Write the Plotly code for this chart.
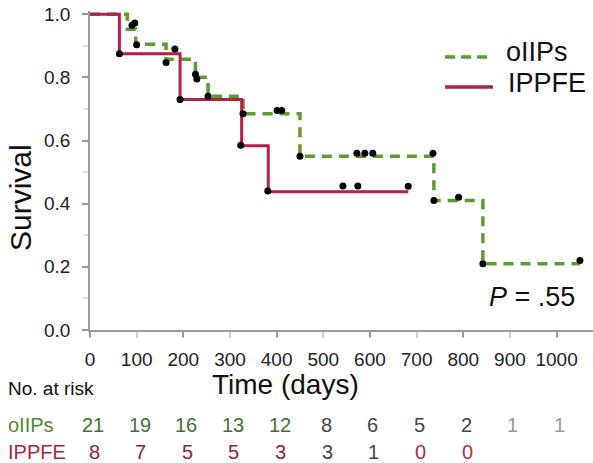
import plotly.graph_objects as go

# Kaplan-Meier steps (day, survival) for each group
oiips_days = [0, 80, 98, 163, 226, 253, 328, 450, 737, 842, 1050]
oiips_surv = [1.0, 0.952, 0.905, 0.857, 0.80, 0.74, 0.685, 0.55, 0.41, 0.21, 0.21]

ippfe_days = [0, 63, 193, 325, 382, 682]
ippfe_surv = [1.0, 0.875, 0.73, 0.583, 0.4375, 0.4375]

# Event / censoring marks
oiips_mark_days = [90, 96, 100, 163, 226, 229, 253, 328, 401, 411, 450,
                   572, 589, 606, 735, 737, 790, 842, 1050]
oiips_mark_surv = [0.965, 0.972, 0.903, 0.847, 0.81, 0.795, 0.74, 0.685, 0.695, 0.695, 0.55,
                   0.56, 0.56, 0.56, 0.56, 0.41, 0.42, 0.21, 0.22]
ippfe_mark_days = [63, 182, 193, 323, 381, 542, 574, 682]
ippfe_mark_surv = [0.875, 0.89, 0.73, 0.585, 0.44, 0.456, 0.456, 0.455]

# Number at risk table
risk_times = [0, 100, 200, 300, 400, 500, 600, 700, 800, 900, 1000]
oiips_risk = [21, 19, 16, 13, 12, 8, 6, 5, 2, 1, 1]
ippfe_risk = [8, 7, 5, 5, 3, 3, 1, 0, 0]
oiips_risk_colors = ["#4b6b35"] * 5 + ["#444444"] * 4 + ["#9a9a9a"] * 2
ippfe_risk_colors = ["#8e2338"] * 5 + ["#444444"] * 2 + ["#a8324c"] * 2

x_ticks = [0, 100, 200, 300, 400, 500, 600, 700, 800, 900, 1000]
y_ticks = [0.0, 0.2, 0.4, 0.6, 0.8, 1.0]

GREEN = "#5e9b34"
RED = "#b3204a"
FONT = "Liberation Sans, Arial, sans-serif"

fig = go.Figure()

fig.add_trace(go.Scatter(
    x=oiips_days, y=oiips_surv, mode="lines", line_shape="hv",
    line=dict(color=GREEN, width=3.5, dash="10px,7px"),
    name="oIIPs", showlegend=False))
fig.add_trace(go.Scatter(
    x=ippfe_days, y=ippfe_surv, mode="lines", line_shape="hv",
    line=dict(color=RED, width=3),
    name="IPPFE", showlegend=False))
fig.add_trace(go.Scatter(
    x=oiips_mark_days + ippfe_mark_days, y=oiips_mark_surv + ippfe_mark_surv,
    mode="markers", marker=dict(color="black", size=7),
    xaxis="x2", showlegend=False, hoverinfo="skip"))

fig.update_layout(
    width=593, height=463,
    margin=dict(l=90, r=0, t=11, b=133),
    paper_bgcolor="white", plot_bgcolor="white",
    font=dict(family=FONT, color="#1a1a1a"),
    xaxis=dict(
        range=[0, 1078], tickvals=x_ticks, ticktext=[str(v) for v in x_ticks],
        ticks="outside", ticklen=6, tickcolor="#cfcfcf", tickwidth=1.5,
        showline=True, linecolor="#9a9a9a", linewidth=1.5,
        showgrid=False, zeroline=False,
        tickfont=dict(size=19, color="#222222"), ticklabelstandoff=5),
    xaxis2=dict(
        overlaying="x", matches="x", anchor="y", side="bottom",
        dtick=200, tick0=0, ticks="outside", ticklen=6, tickcolor="#9a9a9a", tickwidth=1.5,
        showticklabels=False, showline=False, showgrid=False, zeroline=False),
    yaxis=dict(
        range=[0, 1.01], tickvals=y_ticks, tickformat=".1f",
        ticks="outside", ticklen=6, tickcolor="#9a9a9a", tickwidth=1.5,
        minor=dict(dtick=0.1, ticks="outside", ticklen=5, tickcolor="#dddddd"),
        showline=True, linecolor="#9a9a9a", linewidth=1.5,
        showgrid=False, zeroline=False,
        tickfont=dict(size=19, color="#222222"), ticklabelstandoff=8),
)


def label(text, x, y, size, color, xanchor="center", xref="paper", **kw):
    return dict(text=text, x=x, y=y, xref=xref, yref="paper", xanchor=xanchor,
                yanchor="middle", showarrow=False, font=dict(size=size, color=color), **kw)


annotations = [
    label("Survival", -0.137, 0.414, 30, "#111111", textangle=-90),
    label("Time (days)", 0.388, -0.172, 28, "#111111"),
    label("No. at risk", -0.167, -0.182, 19, "#111111", xanchor="left"),
    label("oIIPs", -0.167, -0.298, 20, "#4f8a2c", xanchor="left"),
    label("IPPFE", -0.167, -0.382, 20, "#b01e44", xanchor="left"),
    label("<i>P</i> = .55", 0.879, 0.103, 27, "#111111"),
    label("oIIPs", 0.824, 0.871, 27, "#111111", xanchor="left"),
    label("IPPFE", 0.828, 0.774, 27, "#111111", xanchor="left"),
]
for t, n, c in zip(risk_times, oiips_risk, oiips_risk_colors):
    annotations.append(label(str(n), t, -0.298, 20, c, xref="x", xshift=3))
for t, n, c in zip(risk_times, ippfe_risk, ippfe_risk_colors):
    annotations.append(label(str(n), t, -0.382, 20, c, xref="x", xshift=4))
fig.update_layout(annotations=annotations)

# Legend samples
fig.add_shape(type="line", xref="paper", yref="paper", x0=0.706, x1=0.801, y0=0.856, y1=0.856,
              line=dict(color=GREEN, width=3.5, dash="10px,6px"))
fig.add_shape(type="line", xref="paper", yref="paper", x0=0.706, x1=0.801, y0=0.762, y1=0.762,
              line=dict(color=RED, width=3.5))

fig.write_html("out.html")
